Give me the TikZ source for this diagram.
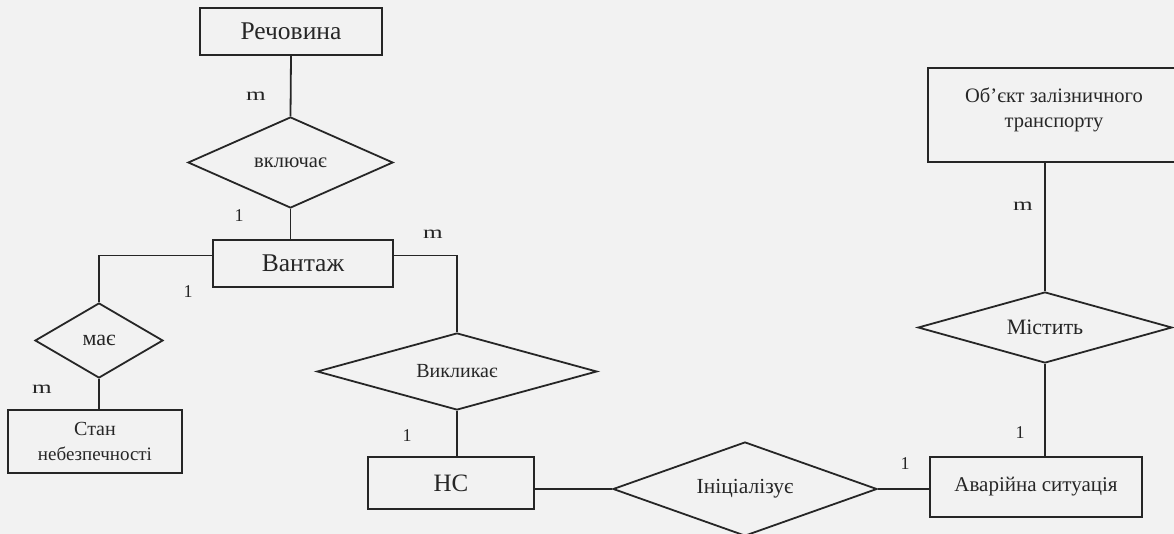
\documentclass[tikz,border=0pt]{standalone}
\usepackage{fontspec}
\setmainfont{Liberation Serif}
\usepackage{graphicx}
\usepackage{tikz}
\usetikzlibrary{shapes.geometric}
\definecolor{ink}{HTML}{262626}
\definecolor{paper}{HTML}{F2F2F2}
\newcommand{\many}{\scalebox{1.4}[1]{m}}

\begin{document}
\begin{tikzpicture}[x=1pt,y=-1pt,
  entity/.style={draw=ink,line width=1.8pt,text=ink,rectangle,inner sep=0pt},
  relation/.style={draw=ink,line width=1.8pt,text=ink,diamond,inner sep=0pt,aspect=3},
  card/.style={text=ink,font=\fontsize{18}{18}\selectfont,inner sep=0pt},
  link/.style={draw=ink,line width=1.8pt}]
\fill[paper] (0,0) rectangle (1174,534);
\useasboundingbox (0,0) rectangle (1174,534);
% entities
\node[entity,minimum width=182pt,minimum height=47pt,font=\fontsize{25.5}{25.5}\selectfont] (rech) at (291,31.5) {Речовина};
\node[entity,minimum width=180pt,minimum height=47pt,font=\fontsize{25.5}{25.5}\selectfont] (vant) at (303,263.5) {Вантаж};
\node[entity,minimum width=174pt,minimum height=63pt,align=center] (stan) at (95,441.5)
  {{\fontsize{20}{20}\selectfont Стан}\\[11pt]{\fontsize{19}{19}\selectfont небезпечності}};
\node[entity,minimum width=166pt,minimum height=52pt,font=\fontsize{25}{25}\selectfont] (ns) at (451,483) {НС};
\node[entity,minimum width=212pt,minimum height=60pt,font=\fontsize{21}{21}\selectfont] (avar) at (1036,487) {Аварійна ситуація};
\node[entity,minimum width=252pt,minimum height=94pt,align=center,font=\fontsize{20.5}{25}\selectfont] (obj) at (1054,115) {Об’єкт залізничного\\транспорту\\[-10pt]\mbox{}};
% relations
\node[relation,minimum width=205pt,minimum height=91pt,font=\fontsize{20.5}{20.5}\selectfont] (vkl) at (290.5,162.5) {включає};
\node[relation,minimum width=128pt,minimum height=75pt,font=\fontsize{22}{22}\selectfont] (mae) at (99,340.5) {має};
\node[relation,minimum width=280pt,minimum height=77pt,font=\fontsize{20}{20}\selectfont] (vykl) at (457,371.5) {Викликає};
\node[relation,minimum width=264pt,minimum height=94pt,font=\fontsize{21.5}{21.5}\selectfont] (inic) at (745,489) {Ініціалізує};
\node[relation,minimum width=254pt,minimum height=71pt,font=\fontsize{22}{22}\selectfont] (myst) at (1045,327.5) {Містить};
% connectors
\draw[link] (rech.south) -- (vkl.north);
\draw[link] (vkl.south) -- (vkl.south |- vant.north);
\draw[link] ([yshift=8pt]vant.west) -| (mae.north);
\draw[link] ([yshift=8pt]vant.east) -| (vykl.north);
\draw[link] (mae.south) -- (mae.south |- stan.north);
\draw[link] (vykl.south) -- (vykl.south |- ns.north);
\draw[link] (inic.west -| ns.east) -- (inic.west);
\draw[link] (inic.east) -- (inic.east -| avar.west);
\draw[link] (myst.south) -- (myst.south |- avar.north);
\draw[link] (myst.north |- obj.south) -- (myst.north);
% cardinalities
\node[card] (c1) at (256,96) {\many};
\node[card] (c2) at (239,216) {1};
\node[card] (c3) at (433,234) {\many};
\node[card] (c4) at (188,292) {1};
\node[card] (c5) at (42,389) {\many};
\node[card] (c6) at (407,436) {1};
\node[card] (c7) at (905,464) {1};
\node[card] (c8) at (1020,433) {1};
\node[card] (c9) at (1023,206) {\many};
\end{tikzpicture}
\end{document}
